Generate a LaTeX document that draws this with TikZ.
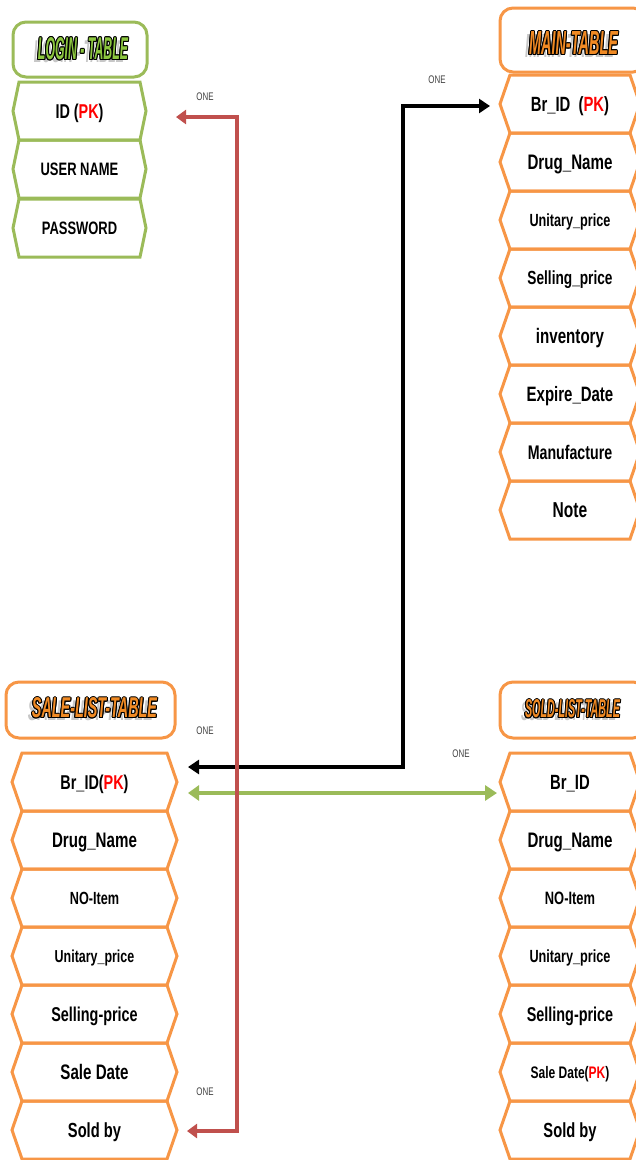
\documentclass[tikz,border=0pt]{standalone}
\usepackage{graphicx}
\usepackage{fontspec}
\setmainfont{Liberation Sans}[FakeStretch=0.72]
\usetikzlibrary{arrows.meta}
\definecolor{lgreen}{HTML}{9BBB59}
\definecolor{lorange}{HTML}{F79646}
\definecolor{lred}{HTML}{C0504D}
\definecolor{pkred}{HTML}{FF0000}
\definecolor{tgreen}{HTML}{8CC63F}
\definecolor{torange}{HTML}{F08A24}
\newcommand\pk{\textcolor{pkred}{PK}}
% #1 name, #2 cx, #3 cy, #4 width, #5 indent, #6 colour, #7 font size, #8 text
\newcommand\hexrow[8]{%
  \node[rowtxt, minimum width=#4pt, font=\bfseries\fontsize{#7pt}{#7pt}\selectfont] (#1) at (#2,#3) {#8};
  \draw[hexline, draw=#6] (#1.west) -- ([xshift=#5pt]#1.north west) -- ([xshift=-#5pt]#1.north east)
     -- (#1.east) -- ([xshift=-#5pt]#1.south east) -- ([xshift=#5pt]#1.south west) -- cycle;
}
% #1 name, #2 x, #3 y, #4 fill colour, #5 width, #6 height, #7 text
\newcommand\titletext[7]{%
  \begin{scope}[shift={(#2,#3)}]
  \node[inner sep=0pt, text=black!22] at (-4pt,-3pt) {\resizebox{#5pt}{#6pt}{\bfseries\itshape #7}};
  \foreach \a in {0,30,...,330}
    \node[inner sep=0pt, text=black] at (\a:1pt) {\resizebox{#5pt}{#6pt}{\bfseries\itshape #7}};
  \node[inner sep=0pt, text=#4] (#1) at (0,0) {\resizebox{#5pt}{#6pt}{\bfseries\itshape #7}};
  \end{scope}
}
\begin{document}
\begin{tikzpicture}[x=1pt,y=-1pt,
  rowtxt/.style={inner sep=0pt, outer sep=0pt, minimum height=58pt, text depth=0pt, text=black},
  hexline/.style={line width=3pt, line join=miter},
  titlebox/.style={line width=3pt, rounded corners=13pt, inner sep=0pt, outer sep=0pt},
  onelbl/.style={font=\fontsize{11pt}{11pt}\selectfont, text=black!75, inner sep=0pt},
  redconn/.style={draw=lred, line width=3.4pt, {Triangle[length=10pt,width=14pt]}-{Triangle[length=10pt,width=14pt]}},
  blackconn/.style={draw=black, line width=3.8pt, {Triangle[length=11pt,width=14pt]}-{Triangle[length=11pt,width=14pt]}},
  greenconn/.style={draw=lgreen, line width=4.4pt, {Triangle[length=11pt,width=15pt]}-{Triangle[length=12pt,width=15pt]}},
]
\useasboundingbox (0,0) rectangle (635,1160);
\fill[white] (0,0) rectangle (635,1160);

% ---------------- LOGIN TABLE ----------------
\node[titlebox, draw=lgreen, minimum width=134pt, minimum height=55pt] (ltbox) at (80,49.5) {};
\titletext{lttitle}{83}{49}{tgreen}{90}{22}{LOGIN - TABLE}
\hexrow{l1}{79.5}{111}{133}{6}{lgreen}{20}{ID (\pk)}
\hexrow{l2}{79.5}{169}{133}{6}{lgreen}{18}{USER NAME}
\hexrow{l3}{79.5}{228}{133}{6}{lgreen}{18}{PASSWORD}

% ---------------- MAIN TABLE ----------------
\node[titlebox, draw=lorange, minimum width=146pt, minimum height=64pt] (mtbox) at (573,40) {};
\titletext{mttitle}{573.5}{43}{torange}{89}{23}{MAIN-TABLE}
\hexrow{m1}{570}{104}{140}{10}{lorange}{20.6}{Br\_ID\ \ (\pk)}
\hexrow{m2}{570}{162}{140}{10}{lorange}{21}{Drug\_Name}
\hexrow{m3}{570}{220}{140}{10}{lorange}{17.6}{Unitary\_price}
\hexrow{m4}{570}{278}{140}{10}{lorange}{19}{Selling\_price}
\hexrow{m5}{570}{336}{140}{10}{lorange}{21}{inventory}
\hexrow{m6}{570}{394}{140}{10}{lorange}{20.8}{Expire\_Date}
\hexrow{m7}{570}{452}{140}{10}{lorange}{19.7}{Manufacture}
\hexrow{m8}{570}{510}{140}{10}{lorange}{21.6}{Note}

% ---------------- SALE-LIST TABLE ----------------
\node[titlebox, draw=lorange, minimum width=169pt, minimum height=56pt] (stbox) at (90.5,710) {};
\titletext{sttitle}{94.5}{708}{torange}{125}{20}{SALE-LIST-TABLE}
\hexrow{s1}{94.5}{782}{165}{10}{lorange}{20}{Br\_ID(\pk)}
\hexrow{s2}{94.5}{840}{165}{10}{lorange}{21}{Drug\_Name}
\hexrow{s3}{94.5}{898}{165}{10}{lorange}{17.6}{NO-Item}
\hexrow{s4}{94.5}{956}{165}{10}{lorange}{17.3}{Unitary\_price}
\hexrow{s5}{94.5}{1014}{165}{10}{lorange}{20}{Selling-price}
\hexrow{s6}{94.5}{1072}{165}{10}{lorange}{21}{Sale Date}
\hexrow{s7}{94.5}{1130}{165}{10}{lorange}{20.4}{Sold by}

% ---------------- SOLD-LIST TABLE ----------------
\node[titlebox, draw=lorange, minimum width=146pt, minimum height=56pt] (dtbox) at (573,710) {};
\titletext{dttitle}{572.5}{709}{torange}{95}{18}{SOLD-LIST-TABLE}
\hexrow{d1}{570}{782}{140}{10}{lorange}{20.6}{Br\_ID}
\hexrow{d2}{570}{840}{140}{10}{lorange}{21}{Drug\_Name}
\hexrow{d3}{570}{898}{140}{10}{lorange}{17.9}{NO-Item}
\hexrow{d4}{570}{956}{140}{10}{lorange}{17.6}{Unitary\_price}
\hexrow{d5}{570}{1014}{140}{10}{lorange}{20}{Selling-price}
\hexrow{d6}{570}{1072}{140}{10}{lorange}{16.7}{Sale Date(\pk)}
\hexrow{d7}{570}{1130}{140}{10}{lorange}{20.4}{Sold by}

% ---------------- CONNECTORS ----------------
\coordinate (bA) at (188,767);
\coordinate (bC) at (403,106);
\coordinate (bB) at (490,106);
\draw[blackconn] (bA) -| (bC) -- (bB);

\coordinate (gA) at (188,793);
\coordinate (gB) at (497,793);
\draw[greenconn] (gA) -- (gB);

\coordinate (rA) at (187,1131);
\coordinate (rC) at (237,117);
\coordinate (rB) at (176,117);
\draw[redconn, line join=miter] (rA) -| (rC) -- (rB);

% ---------------- LABELS ----------------
\node[onelbl] (o1) at (205,97) {ONE};
\node[onelbl] (o2) at (437,80) {ONE};
\node[onelbl] (o3) at (205,731) {ONE};
\node[onelbl] (o4) at (461,754) {ONE};
\node[onelbl] (o5) at (205,1092) {ONE};
\end{tikzpicture}
\end{document}
